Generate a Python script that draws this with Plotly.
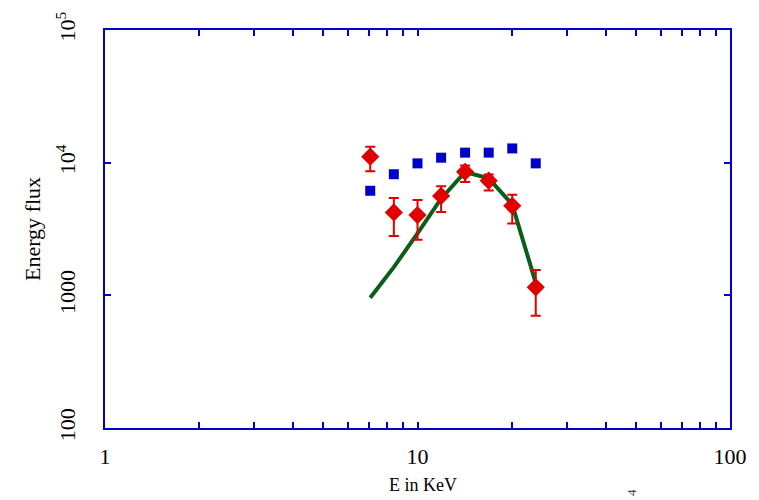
import plotly.graph_objects as go

# Data
blue_x = [7.06, 8.40, 10.0, 11.9, 14.2, 16.9, 20.1, 23.9]
blue_y = [6140, 8180, 9880, 10900, 11900, 11900, 12800, 9880]

red_x = [7.06, 8.40, 10.0, 11.9, 14.2, 16.9, 20.1, 23.9]
red_y = [11100, 4220, 4030, 5610, 8530, 7310, 4730, 1150]
red_hi = [13200, 5420, 5240, 6650, 9500, 8150, 5730, 1550]
red_lo = [8630, 2800, 2620, 4250, 7140, 6170, 3480, 703]

green_x = [7.06, 8.40, 10.0, 11.9, 14.2, 16.9, 20.1, 23.9]
green_y = [960, 1630, 2930, 5350, 8500, 7620, 4830, 1240]

x_ticks = [1, 10, 100]
x_labels = ["1", "10", "100"]
x_minor = [2, 3, 4, 5, 6, 7, 8, 9, 20, 30, 40, 50, 60, 70, 80, 90]
y_ticks = [100, 1000, 10000, 100000]
y_labels = ["100", "1000", "10<sup>4</sup>", "10<sup>5</sup>"]

BLUE = "#0000cc"
RED = "#e00000"
GREEN = "#0b5e17"
FONT = "Liberation Serif"

fig = go.Figure()
fig.add_trace(go.Scatter(x=green_x, y=green_y, mode="lines",
                         line=dict(color=GREEN, width=4), showlegend=False))
fig.add_trace(go.Scatter(x=blue_x, y=blue_y, mode="markers",
                         marker=dict(symbol="square", size=10, color=BLUE),
                         showlegend=False))
fig.add_trace(go.Scatter(
    x=red_x, y=red_y, mode="markers",
    marker=dict(symbol="diamond", size=14, color=RED),
    error_y=dict(type="data", symmetric=False,
                 array=[h - v for h, v in zip(red_hi, red_y)],
                 arrayminus=[v - l for v, l in zip(red_y, red_lo)],
                 color=RED, thickness=2, width=5),
    showlegend=False))

fig.update_xaxes(type="log", range=[0, 2], tickvals=x_ticks, ticktext=x_labels,
                 ticks="inside", ticklen=6, tickwidth=1.5, tickcolor=BLUE,
                 minor=dict(tickvals=x_minor, ticks="inside", ticklen=6,
                            tickwidth=1.5, tickcolor=BLUE, showgrid=False),
                 showline=True, linecolor=BLUE, linewidth=2, mirror="ticks",
                 showgrid=False, zeroline=False, ticklabelstandoff=8,
                 tickfont=dict(family=FONT, size=22, color="black"))
fig.update_yaxes(type="log", range=[2, 5], tickvals=y_ticks, ticktext=y_labels,
                 ticks="inside", ticklen=6, tickwidth=1.5, tickcolor=BLUE,
                 showline=True, linecolor=BLUE, linewidth=2, mirror="ticks",
                 showgrid=False, zeroline=False, tickangle=-90,
                 ticklabelstandoff=19,
                 tickfont=dict(family=FONT, size=22, color="black"))

fig.update_layout(
    width=759, height=500,
    margin=dict(l=105, r=19, t=22, b=72),
    plot_bgcolor="white", paper_bgcolor="white",
    font=dict(family=FONT, color="black"),
    annotations=[
        dict(text="E in KeV", xref="paper", yref="paper", x=0.508, y=-0.143,
             xanchor="center", yanchor="middle", showarrow=False,
             font=dict(family=FONT, size=18, color="black")),
        dict(text="Energy flux", xref="paper", yref="paper", x=-0.1167, y=0.5,
             xanchor="center", yanchor="middle", showarrow=False, textangle=-90,
             font=dict(family=FONT, size=22, color="black")),
        dict(text="4", xref="paper", yref="paper", x=0.8435, y=-0.163,
             xanchor="center", yanchor="middle", showarrow=False, textangle=-90,
             font=dict(family=FONT, size=13, color="#444444")),
    ],
)

fig.write_html("out.html")
